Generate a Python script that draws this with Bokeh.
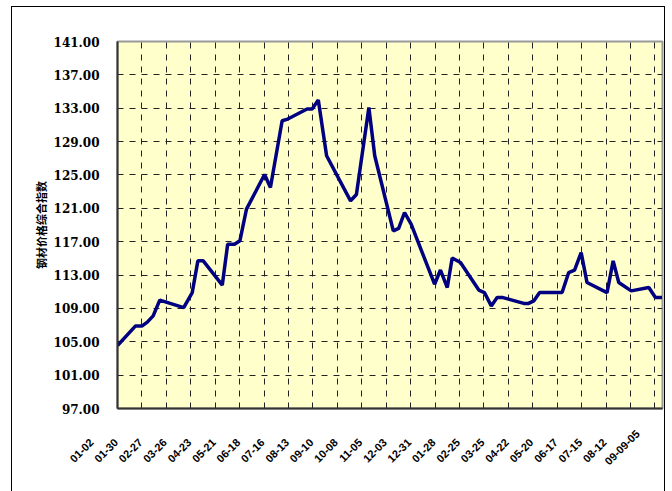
import math
from bokeh.plotting import figure
from bokeh.models import FixedTicker, PrintfTickFormatter, Range1d
from bokeh.embed import file_html
from bokeh.resources import INLINE

# time position (one unit = one label interval) and index values
week = [0.00, 0.74, 1.01, 1.22, 1.46, 1.73, 2.71, 3.06, 3.29, 3.51,
        4.29, 4.51, 4.79, 5.01, 5.28, 6.02, 6.26, 6.74, 6.97, 7.76,
        7.97, 8.22, 8.56, 9.54, 9.78, 10.29, 10.53, 11.29, 11.51, 11.75,
        12.02, 12.98, 13.22, 13.50, 13.70, 14.04, 14.79, 15.02, 15.30, 15.54,
        15.78, 16.63, 16.83, 17.04, 17.28, 18.20, 18.47, 18.71, 18.98, 19.22,
        20.04, 20.29, 20.52, 21.03, 21.75, 22.02, 22.29]
index = [104.55, 106.9, 106.9, 107.35, 108.1, 110.0, 109.1, 110.9, 114.7, 114.7,
         111.8, 116.7, 116.7, 117.1, 120.9, 125.05, 123.5, 131.5, 131.7, 132.9,
         132.9, 134.0, 127.3, 121.9, 122.65, 133.1, 127.3, 118.3, 118.6, 120.5,
         119.1, 111.9, 113.6, 111.5, 115.05, 114.5, 111.2, 110.9, 109.3, 110.3,
         110.3, 109.6, 109.6, 109.9, 110.9, 110.9, 113.3, 113.6, 115.7, 112.1,
         110.9, 114.7, 112.1, 111.1, 111.5, 110.3, 110.3]

x_ticks = list(range(23))
x_labels = ["01-02", "01-30", "02-27", "03-26", "04-23", "05-21", "06-18", "07-16",
            "08-13", "09-10", "10-08", "11-05", "12-03", "12-31", "01-28", "02-25",
            "03-25", "04-22", "05-20", "06-17", "07-15", "08-12", "09-09-05"]
y_ticks = list(range(97, 142, 4))
y_title = "钢材价格综合指数"

# canvas origin sits at (12, 7) of the page because of margin + border
p = figure(width=654, height=490, output_backend="svg", toolbar_location=None,
           x_range=Range1d(0, 22.31), y_range=Range1d(97, 141),
           min_border_left=105, min_border_right=4, min_border_top=34,
           min_border_bottom=89)
p.margin = (6, 0, 0, 11)
p.styles = {"border": "1px solid black"}
p.background_fill_color = "#FFFFCC"
p.border_fill_color = "white"
p.outline_line_color = "#999999"
p.outline_line_width = 2

# axes
yax = p.yaxis[0]
yax.ticker = FixedTicker(ticks=y_ticks)
yax.formatter = PrintfTickFormatter(format="%.2f")
yax.major_label_text_font = "DejaVu Serif"
yax.major_label_text_font_style = "bold"
yax.major_label_text_font_size = "12px"
yax.major_label_text_color = "black"
yax.major_tick_line_color = None
yax.minor_tick_line_color = None
yax.major_label_standoff = 12
yax.axis_line_color = "#333333"
yax.axis_line_width = 2
yax.axis_label = y_title
yax.axis_label_text_font = "Noto Sans CJK SC"
yax.axis_label_text_font_style = "bold"
yax.axis_label_text_font_size = "11px"
yax.axis_label_text_color = "black"
yax.axis_label_standoff = 2

pad = "\u00a0" * 12
xax = p.xaxis[0]
xax.ticker = FixedTicker(ticks=x_ticks)
xax.major_label_overrides = {t: lab + (pad if len(lab) < 6 else "\u00a0" * 8)
                             for t, lab in zip(x_ticks, x_labels)}
xax.major_label_orientation = math.pi / 4
xax.major_label_text_font = "Liberation Sans"
xax.major_label_text_font_style = "bold"
xax.major_label_text_font_size = "11px"
xax.major_label_text_color = "black"
xax.major_tick_line_color = None
xax.minor_tick_line_color = None
xax.major_label_standoff = 0
xax.axis_line_color = "#333333"
xax.axis_line_width = 2

p.xgrid.ticker = FixedTicker(ticks=x_ticks)
p.ygrid.ticker = FixedTicker(ticks=y_ticks)
for g in (p.xgrid, p.ygrid):
    g.grid_line_color = "#222222"
    g.grid_line_width = 1
    g.grid_line_dash = "dashed"

r = p.line(week, index, line_color="#000080", line_width=3.5)

open("out.html", "w").write(file_html(p, INLINE))
